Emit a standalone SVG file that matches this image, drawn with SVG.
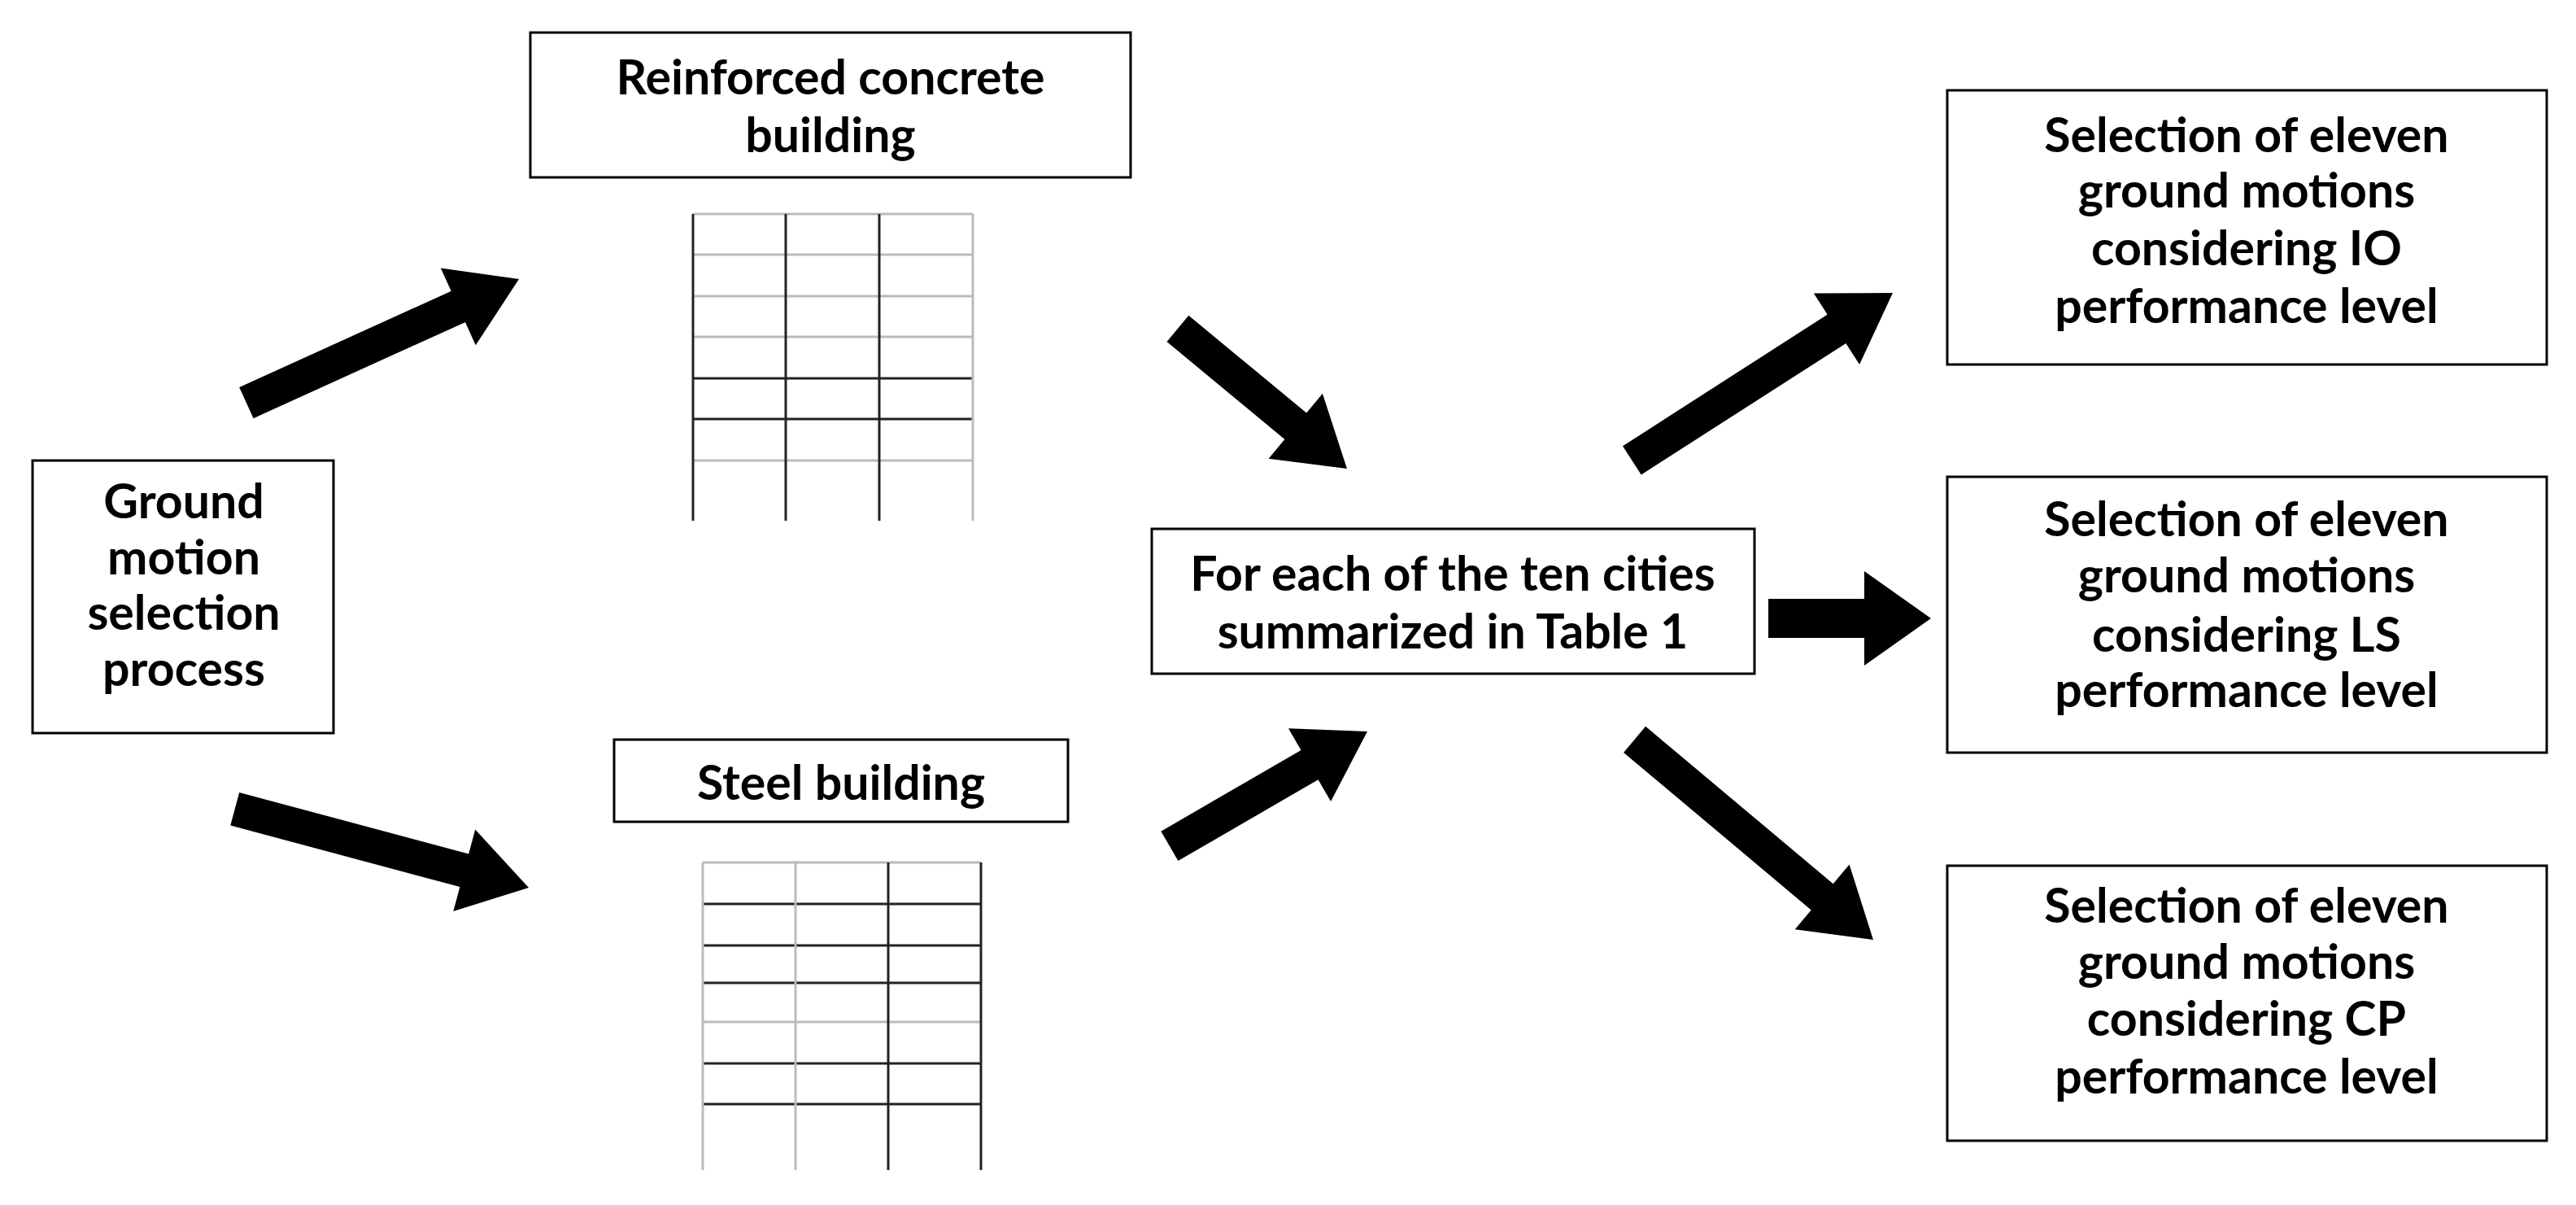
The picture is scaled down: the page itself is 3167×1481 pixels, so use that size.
<svg xmlns="http://www.w3.org/2000/svg" width="3167" height="1481" viewBox="0 0 3167 1481">
<style>
.box{fill:#fff;stroke:#000;stroke-width:3}
.t{font-family:Lato,"Liberation Sans",sans-serif;font-weight:bold;font-size:59px;text-anchor:middle;fill:#000}
.k{stroke:#222;stroke-width:3}
.g{stroke:#bbb;stroke-width:3}
</style>
<defs>
<polygon id="arr" points="0,0 -82,-52 -82,52"/>
</defs>
<rect width="3167" height="1481" fill="#fff"/>
<g id="connectors">
<g transform="translate(638,343) rotate(-24.4)"><rect x="-368" y="-21" width="288" height="42"/><use href="#arr"/></g>
<g transform="translate(650,1091) rotate(15)"><rect x="-374" y="-21" width="294" height="42"/><use href="#arr"/></g>
<g transform="translate(1656,576) rotate(39.6)"><rect x="-270" y="-21" width="190" height="42"/><use href="#arr"/></g>
<g transform="translate(1681,899) rotate(-30.1)"><rect x="-281" y="-21" width="201" height="42"/><use href="#arr"/></g>
<g transform="translate(2327,360) rotate(-32.7)"><rect x="-381" y="-21" width="301" height="42"/><use href="#arr"/></g>
<g transform="translate(2374,760)"><rect x="-200" y="-24" width="120" height="48"/><polygon points="0,0 -82,-58 -82,58"/></g>
<g transform="translate(2303,1155) rotate(40)"><rect x="-383" y="-21" width="303" height="42"/><use href="#arr"/></g>
</g>
<g id="ground"><rect class="box" x="40" y="566" width="370" height="335"/>
<text class="t" x="226" y="637">Ground</text><text class="t" x="226" y="706">motion</text><text class="t" x="226" y="774">selection</text><text class="t" x="226" y="843">process</text></g>
<g id="rc"><rect class="box" x="652" y="40" width="738" height="178"/>
<text class="t" x="1021" y="116">Reinforced concrete</text><text class="t" x="1021" y="187">building</text></g>
<g id="rcframe">
<line class="g" x1="852" y1="263" x2="1196" y2="263"/><line class="g" x1="852" y1="313" x2="1196" y2="313"/><line class="g" x1="852" y1="364" x2="1196" y2="364"/><line class="g" x1="852" y1="414" x2="1196" y2="414"/>
<line class="k" x1="852" y1="465" x2="1196" y2="465"/><line class="k" x1="852" y1="515" x2="1196" y2="515"/><line class="g" x1="852" y1="566" x2="1196" y2="566"/>
<line class="k" x1="852" y1="263" x2="852" y2="640"/><line class="k" x1="966" y1="263" x2="966" y2="640"/><line class="k" x1="1081" y1="263" x2="1081" y2="640"/><line class="g" x1="1196" y1="263" x2="1196" y2="640"/>
</g>
<g id="steel"><rect class="box" x="755" y="909" width="558" height="101"/>
<text class="t" x="1034" y="983">Steel building</text></g>
<g id="steelframe">
<line class="g" x1="864" y1="1060" x2="1206" y2="1060"/><line class="k" x1="864" y1="1111" x2="1206" y2="1111"/><line class="k" x1="864" y1="1162" x2="1206" y2="1162"/><line class="k" x1="864" y1="1208" x2="1206" y2="1208"/><line class="g" x1="864" y1="1256" x2="1206" y2="1256"/><line class="k" x1="864" y1="1307" x2="1206" y2="1307"/><line class="k" x1="864" y1="1357" x2="1206" y2="1357"/>
<line class="g" x1="864" y1="1060" x2="864" y2="1438"/><line class="g" x1="978" y1="1060" x2="978" y2="1438"/><line class="k" x1="1092" y1="1060" x2="1092" y2="1438"/><line class="k" x1="1206" y1="1060" x2="1206" y2="1438"/>
</g>
<g id="center"><rect class="box" x="1416" y="650" width="741" height="178"/>
<text class="t" x="1786" y="726">For each of the ten cities</text><text class="t" x="1786" y="797">summarized in Table 1</text></g>
<g id="io"><rect class="box" x="2394" y="111" width="737" height="337"/>
<text class="t" x="2762" y="187">Selection of eleven</text><text class="t" x="2762" y="255">ground motions</text><text class="t" x="2762" y="326">considering IO</text><text class="t" x="2762" y="397">performance level</text></g>
<g id="ls"><rect class="box" x="2394" y="586" width="737" height="339"/>
<text class="t" x="2762" y="659">Selection of eleven</text><text class="t" x="2762" y="728">ground motions</text><text class="t" x="2762" y="801">considering LS</text><text class="t" x="2762" y="869">performance level</text></g>
<g id="cp"><rect class="box" x="2394" y="1064" width="737" height="338"/>
<text class="t" x="2762" y="1134">Selection of eleven</text><text class="t" x="2762" y="1203">ground motions</text><text class="t" x="2762" y="1273">considering CP</text><text class="t" x="2762" y="1344">performance level</text></g>
</svg>
